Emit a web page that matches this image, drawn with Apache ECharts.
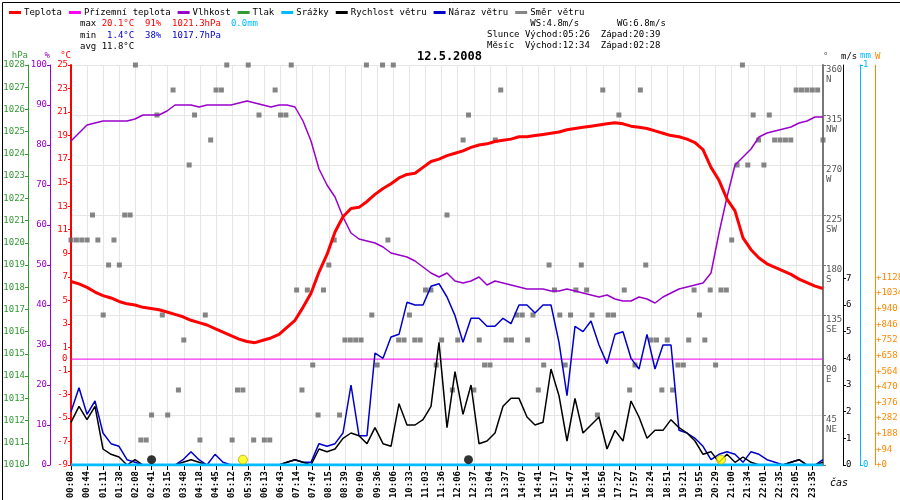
<!DOCTYPE html>
<html>
<head>
<meta charset="utf-8" />
<title>Meteo 12.5.2008</title>
<script src="https://cdn.jsdelivr.net/npm/echarts@6/dist/echarts.min.js"></script>
<style>
  html, body { margin: 0; padding: 0; background: #fff; }
  #chart { width: 900px; height: 500px; }
</style>
</head>
<body>
<div id="chart"></div>
<script>
// casove popisky (kazdy 3. desetiminutovy vzorek)
var times = ['00:08','00:44','01:11','01:38','02:08','02:41','03:15','03:48','04:18','04:45',
  '05:12','05:39','06:13','06:43','07:14','07:47','08:15','08:39','09:09','09:36','10:06',
  '10:33','11:03','11:36','12:06','12:37','13:04','13:37','14:07','14:41','15:17','15:47',
  '16:14','16:56','17:27','17:57','18:24','18:51','19:21','19:55','20:29','21:00','21:34',
  '22:01','22:35','23:05','23:35'];

// popisky pravych os
var msTicks = [0,1,2,3,4,5,6,7];
var wTicks = [0,94,188,282,376,470,564,658,752,846,940,1034,1128];

// teplota °C
var teplota = [6.6,6.4,6.1,5.7,5.4,5.2,4.9,4.7,4.6,4.4,4.3,4.2,4.0,3.8,3.6,3.3,3.1,2.9,2.6,2.3,
  2.0,1.7,1.5,1.4,1.6,1.8,2.1,2.7,3.3,4.4,5.6,7.4,8.9,10.8,12.1,12.8,12.9,13.4,14.0,14.5,
  14.9,15.4,15.7,15.8,16.3,16.8,17.0,17.3,17.5,17.7,18.0,18.2,18.3,18.5,18.6,18.7,18.9,18.9,19.0,19.1,
  19.2,19.3,19.5,19.6,19.7,19.8,19.9,20.0,20.1,20.0,19.8,19.7,19.6,19.4,19.2,19.0,18.9,18.7,18.4,17.8,
  16.3,15.2,13.6,12.6,10.3,9.3,8.6,8.1,7.8,7.5,7.2,6.8,6.5,6.2,6.0];

// prizemni teplota °C
var prizemni = teplota.map(function () { return 0; });

// vlhkost %
var vlhkost = [81,83,85,85.5,86,86,86,86,86.5,87.5,87.5,87.5,88.5,90,90,90,89.5,90,90,90,
  90,90.5,91,90.5,90,89.5,90,90,89.5,86,81,74,70,67,62,58,56.5,56,55.5,54.5,
  53,52.5,52,51,49.5,48,47,48,46,45.5,46,47,45,46,45.5,45,44.5,44,44,44,
  43.5,43.5,44,43.5,43,42.5,42,42.5,41.5,41,41,42,41.5,40.5,42,43,44,44.5,45,45.5,
  48,58,67,75,77,79,82,83,83.5,84,84.5,85.5,86,87,87];

// rychlost vetru m/s
var rychlost = [1.6,2.2,1.7,2.2,0.6,0.4,0.3,0,0.2,0,0,0,0,0,0.1,0.2,0.1,0,0,0,
  0,0,0,0,0,0,0,0.1,0.2,0.1,0,0.6,0.5,0.6,1.0,1.2,1.1,0.8,1.4,0.8,
  0.7,2.3,1.5,1.5,1.7,2.2,4.6,1.4,3.5,1.9,3.0,0.8,0.9,1.2,2.2,2.5,2.5,1.8,1.5,1.6,
  3.6,2.6,0.9,2.5,1.2,1.5,1.8,0.6,1.3,0.9,2.4,1.8,1.0,1.3,1.3,1.7,1.4,1.2,0.9,0.4,
  0.5,0.1,0.4,0.1,0.3,0.1,0,0,0,0,0.1,0.2,0,0,0.1];

// naraz vetru m/s
var naraz = [2.0,2.9,1.9,2.4,1.2,0.8,0.7,0.2,0.1,0,0,0,0,0,0.2,0.5,0.2,0,0.4,0.1,
  0,0,0,0,0,0,0,0.1,0.2,0.1,0.1,0.8,0.7,0.8,1.2,3.0,1.1,1.1,4.2,4.0,
  4.8,4.9,6.1,6.0,6.0,6.7,6.8,6.3,5.6,4.6,5.5,5.5,5.2,5.2,5.5,5.3,6.0,6.0,5.7,6.0,
  6.0,4.6,2.6,5.2,5.0,5.4,4.5,3.8,4.9,5.0,4.0,3.6,4.9,3.6,4.5,4.5,1.3,1.2,1.0,0.7,
  0.2,0.4,0.5,0.4,0.1,0.5,0.4,0.2,0.1,0,0.1,0.2,0,0,0.2];

// srazky mm
var srazky = teplota.map(function () { return 0; });

// smer vetru ° (141 desetiminutovych vzorku)
var smer = [202.5,202.5,202.5,202.5,225,202.5,135,180,202.5,180,
  225,225,360,22.5,22.5,45,315,135,45,337.5,
  67.5,112.5,270,315,22.5,135,292.5,337.5,337.5,360,
  22.5,67.5,67.5,360,22.5,315,22.5,22.5,337.5,315,
  315,360,157.5,67.5,157.5,90,45,157.5,180,202.5,
  45,112.5,112.5,112.5,112.5,360,135,90,360,202.5,
  360,112.5,112.5,135,112.5,112.5,157.5,157.5,90,112.5,
  225,67.5,112.5,292.5,315,67.5,112.5,90,90,292.5,
  337.5,112.5,112.5,135,135,112.5,135,67.5,90,180,
  157.5,135,90,135,157.5,180,157.5,135,45,337.5,
  135,135,315,157.5,67.5,90,337.5,180,112.5,112.5,
  67.5,112.5,67.5,90,90,112.5,157.5,135,112.5,157.5,
  90,157.5,157.5,202.5,270,360,270,315,292.5,270,
  315,292.5,292.5,292.5,292.5,337.5,337.5,337.5,337.5,337.5,
  292.5];

// vychod/zapad slunce a mesice (index vzorku)
var mesic = [14.7, 73.9];
var slunce = [31.8, 120.9];

var catsLine = teplota.map(function (v, i) { return i; });
var catsDir = smer.map(function (v, i) { return i % 3 === 0 ? times[i / 3] : ''; });
var F = 'DejaVu Sans Mono';

var chart = echarts.init(document.getElementById('chart'));
var option = {
  animation: false,
  backgroundColor: '#fff',
  textStyle: { fontFamily: F },
  legend: {
    left: 4, top: 3, itemGap: 7, itemWidth: 12, itemHeight: 3, icon: 'rect',
    textStyle: { fontFamily: F, fontSize: 9, color: '#000', padding: [0, 0, 0, -2] },
    data: ['Teplota','Přízemní teplota','Vlhkost','Tlak','Srážky','Rychlost větru','Náraz větru','Směr větru']
  },
  grid: { left: 71, right: 77, top: 65, bottom: 35, outerBoundsMode: 'none', containLabel: false },
  graphic: [
    { type: 'rect', left: 0, top: 0, shape: { width: 899, height: 499 },
      style: { fill: 'none', stroke: '#000', lineWidth: 1 } },
    { type: 'text', left: 80, top: 18, style: { text:
      '{k|max }{r|20.1°C  91%  1021.3hPa}   {c|0.0mm}\n{k|min  }{b|1.4°C  38%  1017.7hPa}\n{k|avg 11.8°C}',
      rich: { k: { fill: '#000', fontFamily: F, fontSize: 9, lineHeight: 11 },
              r: { fill: '#f00', fontFamily: F, fontSize: 9, lineHeight: 11 },
              b: { fill: '#00c', fontFamily: F, fontSize: 9, lineHeight: 11 },
              c: { fill: '#0bf', fontFamily: F, fontSize: 9, lineHeight: 11 } } } },
    { type: 'text', left: 487, top: 18, style: { fill: '#000', font: '9px ' + F, lineHeight: 11,
      text: '        WS:4.8m/s       WG:6.8m/s\nSlunce Východ:05:26  Západ:20:39\nMěsíc  Východ:12:34  Západ:02:28' } },
    { type: 'text', left: 417, top: 51, style: { text: '12.5.2008', fill: '#000', font: 'bold 12px ' + F } },
    { type: 'text', left: 62, top: 354, style: { text: '0', fill: '#f00', font: '9px ' + F } },
    { type: 'text', left: 830, top: 478, style: { text: 'čas', fill: '#000', font: 'italic 10px ' + F } }
  ],
  xAxis: [
    { type: 'category', data: catsLine, boundaryGap: false, show: false, position: 'bottom' },
    { type: 'category', data: catsDir, boundaryGap: false, position: 'bottom',
      axisLine: { lineStyle: { color: '#000' } },
      axisTick: { interval: 2, lineStyle: { color: '#000' } },
      axisLabel: { interval: 2, rotate: 90, fontSize: 9, fontFamily: F, color: '#000', fontWeight: 'bold', margin: 6 },
      splitLine: { show: true, interval: 2, lineStyle: { color: '#e6e6e6' } } }
  ],
  yAxis: [
    { type: 'value', name: '°C', min: -9, max: 25, interval: 2, position: 'left', offset: 0,
      nameGap: 4, nameTextStyle: { color: '#f00', fontSize: 9, fontFamily: F, align: 'right' },
      axisLine: { show: true, lineStyle: { color: '#f00', width: 2 } },
      axisTick: { show: true, length: 3, inside: false },
      axisLabel: { color: '#f00', fontSize: 9, fontFamily: F, margin: 3 },
      splitLine: { show: false } },
    { type: 'value', name: '%', min: 0, max: 100, interval: 10, position: 'left', offset: 21,
      nameGap: 4, nameTextStyle: { color: '#90c', fontSize: 9, fontFamily: F, align: 'right' },
      axisLine: { show: true, lineStyle: { color: '#90c' } },
      axisTick: { show: true, length: 3 },
      axisLabel: { color: '#90c', fontSize: 9, fontFamily: F, margin: 3 },
      splitLine: { show: false } },
    { type: 'value', name: 'hPa', min: 1010, max: 1028, interval: 1, position: 'left', offset: 43,
      nameGap: 4, nameTextStyle: { color: '#393', fontSize: 9, fontFamily: F, align: 'right' },
      axisLine: { show: true, lineStyle: { color: '#393' } },
      axisTick: { show: true, length: 3 },
      axisLabel: { color: '#393', fontSize: 9, fontFamily: F, margin: 3,
        formatter: function (v) { return String(v); } },
      splitLine: { show: false } },
    { type: 'value', name: '°', min: 0, max: 360, interval: 45, position: 'right', offset: 0,
      nameGap: 4, nameTextStyle: { color: '#555', fontSize: 9, fontFamily: F, align: 'left' },
      axisLine: { show: true, lineStyle: { color: '#777', width: 2 } },
      axisTick: { show: true, length: 3 },
      axisLabel: { color: '#555', fontSize: 9, fontFamily: F, margin: 3, lineHeight: 10, verticalAlign: 'top',
        formatter: function (v) {
          var d = { 0: '', 45: 'NE', 90: 'E', 135: 'SE', 180: 'S', 225: 'SW', 270: 'W', 315: 'NW', 360: 'N' };
          return v === 0 ? '' : v + '\n' + d[v];
        } },
      splitLine: { show: true, lineStyle: { color: '#e6e6e6' } } },
    { type: 'value', name: 'm/s', min: 0, max: 15, position: 'right', offset: 20,
      nameGap: 4, nameTextStyle: { color: '#000', fontSize: 9, fontFamily: F, align: 'left', padding: [0, 0, 0, -2] },
      axisLine: { show: true, lineStyle: { color: '#000' } },
      axisTick: { show: true, length: 3, customValues: msTicks },
      axisLabel: { color: '#000', fontSize: 9, fontFamily: F, margin: 3, customValues: msTicks },
      splitLine: { show: false } },
    { type: 'value', name: 'mm', min: 0, max: 1, interval: 1, position: 'right', offset: 37,
      nameGap: 4, nameTextStyle: { color: '#0bf', fontSize: 9, fontFamily: F, align: 'left' },
      axisLine: { show: true, lineStyle: { color: '#0bf' } },
      axisTick: { show: true, length: 3 },
      axisLabel: { color: '#0bf', fontSize: 9, fontFamily: F, margin: 3 },
      splitLine: { show: false } },
    { type: 'value', name: 'W', min: 0, max: 2406, position: 'right', offset: 52,
      nameGap: 4, nameTextStyle: { color: '#f80', fontSize: 9, fontFamily: F, align: 'left' },
      axisLine: { show: true, lineStyle: { color: '#f80' } },
      axisTick: { show: false },
      axisLabel: { color: '#f80', fontSize: 9, fontFamily: F, margin: 1, customValues: wTicks,
        formatter: function (v) { return '+' + v; } },
      splitLine: { show: false } }
  ],
  series: [
    { name: 'Teplota', type: 'line', xAxisIndex: 0, yAxisIndex: 0, data: teplota, symbol: 'none', z: 5,
      itemStyle: { color: '#f00' }, lineStyle: { color: '#f00', width: 3 } },
    { name: 'Přízemní teplota', type: 'line', xAxisIndex: 0, yAxisIndex: 0, data: prizemni, symbol: 'none',
      itemStyle: { color: '#f0f' }, lineStyle: { color: '#e0e', width: 1 } },
    { name: 'Vlhkost', type: 'line', xAxisIndex: 0, yAxisIndex: 1, data: vlhkost, symbol: 'none', z: 4,
      itemStyle: { color: '#90c' }, lineStyle: { color: '#90c', width: 1.5 } },
    { name: 'Tlak', type: 'line', xAxisIndex: 0, yAxisIndex: 2, data: [], symbol: 'none',
      itemStyle: { color: '#393' }, lineStyle: { color: '#393' } },
    { name: 'Srážky', type: 'line', xAxisIndex: 0, yAxisIndex: 5, data: srazky, symbol: 'none', z: 6,
      itemStyle: { color: '#0bf' }, lineStyle: { color: '#0bf', width: 3 } },
    { name: 'Rychlost větru', type: 'line', xAxisIndex: 0, yAxisIndex: 4, data: rychlost, symbol: 'none', z: 4,
      itemStyle: { color: '#000' }, lineStyle: { color: '#000', width: 1.5 } },
    { name: 'Náraz větru', type: 'line', xAxisIndex: 0, yAxisIndex: 4, data: naraz, symbol: 'none', z: 3,
      itemStyle: { color: '#00c' }, lineStyle: { color: '#00c', width: 1.5 } },
    { name: 'Směr větru', type: 'scatter', xAxisIndex: 1, yAxisIndex: 3, data: smer, symbol: 'rect', symbolSize: 5,
      itemStyle: { color: '#666' }, z: 2 },
    { name: 'Měsíc', type: 'scatter', xAxisIndex: 1, yAxisIndex: 4, symbolSize: 9, z: 7,
      data: mesic.map(function (x) { return [x, 0.2]; }), itemStyle: { color: '#000' } },
    { name: 'Slunce', type: 'scatter', xAxisIndex: 1, yAxisIndex: 4, symbolSize: 9, z: 7,
      data: slunce.map(function (x) { return [x, 0.2]; }),
      itemStyle: { color: '#ff0', borderColor: '#aa0', borderWidth: 1 } }
  ]
};
chart.setOption(option);
</script>
</body>
</html>
